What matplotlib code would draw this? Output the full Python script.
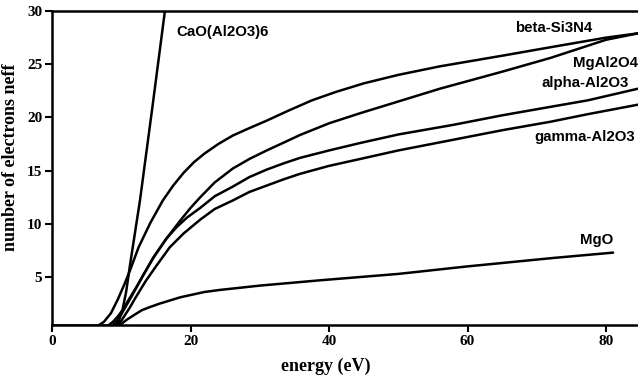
import matplotlib
matplotlib.use("Agg")
import matplotlib.pyplot as plt

# Data (energy in eV, n_eff)
cao_x = [9.3, 9.7, 10.2, 10.7, 11.3, 12.7, 14.5, 16.3, 16.6]
cao_y = [0.5, 1.0, 2.0, 3.6, 6.3, 12.2, 21.0, 30.0, 31.5]

beta_x = [6.8, 7.5, 8.5, 9.5, 10.5, 11.3, 12.5, 14.2, 16.0, 17.5, 19.0, 20.5, 22.0, 24.0, 26.1,
          28.5, 31.0, 34.0, 37.5, 41.0, 45.0, 50.0, 56.0, 65.0, 72.0, 80.0, 84.6]
beta_y = [0.5, 0.8, 1.6, 2.9, 4.4, 5.7, 7.8, 10.1, 12.2, 13.6, 14.8, 15.8, 16.6, 17.5, 18.3,
          19.0, 19.7, 20.6, 21.6, 22.4, 23.2, 24.0, 24.8, 25.8, 26.6, 27.5, 27.9]

mgal_x = [8.2, 8.8, 9.5, 10.3, 11.0, 12.5, 14.5, 16.5, 18.5, 20.0, 21.4, 23.5, 26.1, 28.5, 31.0,
          33.5, 35.8, 40.0, 44.5, 50.0, 56.0, 65.0, 72.0, 80.0, 84.6]
mgal_y = [0.5, 0.8, 1.3, 2.0, 2.8, 4.4, 6.7, 8.6, 10.3, 11.5, 12.5, 13.9, 15.2, 16.1, 16.9,
          17.65, 18.35, 19.45, 20.4, 21.5, 22.7, 24.3, 25.6, 27.3, 27.9]

alpha_x = [8.8, 9.4, 10.0, 10.7, 11.5, 13.0, 14.8, 16.5, 18.0, 19.5, 21.4, 23.5, 26.1, 28.5, 31.0,
           33.5, 35.8, 40.0, 44.5, 50.0, 57.9, 65.0, 72.0, 77.3, 84.6]
alpha_y = [0.5, 0.9, 1.5, 2.3, 3.2, 5.0, 7.0, 8.6, 9.7, 10.6, 11.5, 12.6, 13.5, 14.4, 15.1,
           15.7, 16.2, 16.9, 17.6, 18.4, 19.3, 20.2, 21.0, 21.6, 22.7]

gamma_x = [9.4, 10.0, 10.5, 11.2, 12.0, 13.5, 15.0, 17.0, 19.0, 21.4, 23.5, 26.1, 28.5, 31.0,
           33.5, 35.8, 40.0, 44.5, 50.0, 57.9, 65.0, 72.0, 77.3, 84.6]
gamma_y = [0.5, 0.9, 1.4, 2.1, 3.0, 4.6, 6.0, 7.8, 9.1, 10.4, 11.4, 12.2, 13.0, 13.6,
           14.2, 14.7, 15.45, 16.1, 16.9, 17.9, 18.8, 19.6, 20.3, 21.2]

mgo_x = [9.8, 10.8, 12.0, 13.0, 14.2, 15.5, 17.0, 18.5, 19.9, 22.0, 24.3, 30.0, 38.7, 50.0, 59.9, 72.4, 81.0]
mgo_y = [0.5, 1.0, 1.5, 1.9, 2.2, 2.5, 2.8, 3.1, 3.3, 3.6, 3.8, 4.2, 4.7, 5.3, 6.0, 6.8, 7.3]

xticks = [0, 20, 40, 60, 80]
yticks = [5, 10, 15, 20, 25, 30]

fig = plt.figure(figsize=(6.38, 3.77), dpi=100)
ax = fig.add_axes([52/638, 1 - 325/377, 1 - 52/638, (325 - 11)/377])

for xs, ys in [(cao_x, cao_y), (beta_x, beta_y), (mgal_x, mgal_y),
               (alpha_x, alpha_y), (gamma_x, gamma_y), (mgo_x, mgo_y)]:
    ax.plot(xs, ys, color="black", lw=1.8, solid_capstyle="round", solid_joinstyle="round")
# baseline segment before onsets
ax.plot([0, 9.8], [0.5, 0.5], color="black", lw=1.8)

ax.set_xlim(0, 84.6)
ax.set_ylim(0.5, 30)
ax.set_xticks(xticks)
ax.set_yticks(yticks)

serif = "Liberation Serif"
sans = "Liberation Sans"
for lab in ax.get_xticklabels() + ax.get_yticklabels():
    lab.set_fontfamily(serif)
    lab.set_fontweight("bold")
    lab.set_fontsize(11)

ax.tick_params(axis="both", direction="out", length=5, width=1.5, pad=2)
for side in ["left", "bottom", "top"]:
    ax.spines[side].set_linewidth(1.8)
ax.spines["right"].set_visible(False)

ax.set_xlabel("energy (eV)", fontfamily=serif, fontweight="bold", fontsize=13)
ax.xaxis.set_label_coords(0.468, -0.105)
ax.set_ylabel("number of electrons neff", fontfamily=serif, fontweight="bold", fontsize=13)
ax.yaxis.set_label_coords(-0.056, 0.533)

lab_kw = dict(fontfamily=sans, fontweight="bold", fontsize=10.8, va="center")
ax.text(18.0, 28.0, "CaO(Al2O3)6", ha="left", **lab_kw)
ax.text(66.9, 28.4, "beta-Si3N4", ha="left", **lab_kw)
ax.text(84.6, 25.1, "MgAl2O4", ha="right", **lab_kw)
ax.text(70.6, 23.2, "alpha-Al2O3", ha="left", **lab_kw)
ax.text(69.7, 18.2, "gamma-Al2O3", ha="left", clip_on=False, **lab_kw)
ax.text(76.2, 8.5, "MgO", ha="left", **lab_kw)

fig.savefig("out.png", dpi=100)
